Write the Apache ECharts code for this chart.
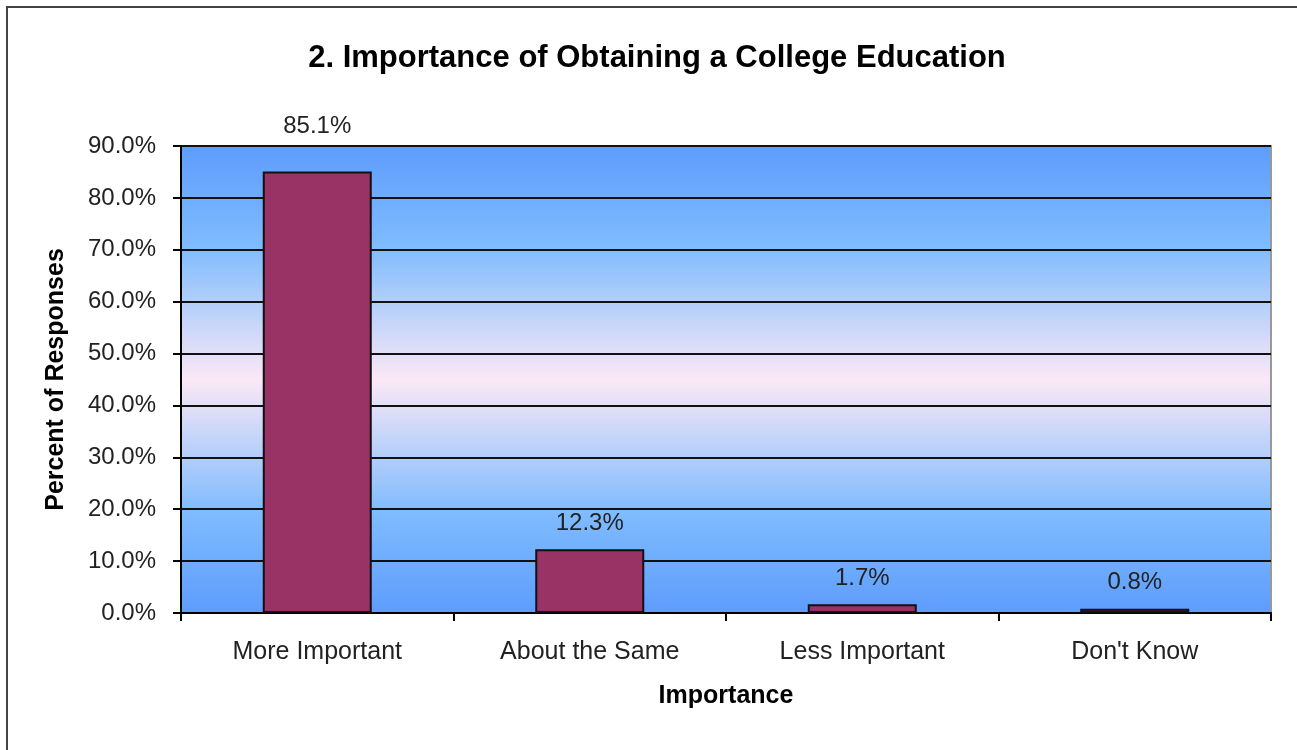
<!DOCTYPE html>
<html>
<head>
<meta charset="utf-8">
<script src="https://cdn.jsdelivr.net/npm/echarts@6/dist/echarts.min.js"></script>
<style>html,body{margin:0;padding:0;background:#fff;}#c{width:1297px;height:750px;}</style>
</head>
<body>
<div id="c"></div>
<script>
const categories = ['More Important', 'About the Same', 'Less Important', "Don't Know"];
const values = [85.1, 12.3, 1.7, 0.8];
const yTicks = [0, 10, 20, 30, 40, 50, 60, 70, 80, 90];

const chart = echarts.init(document.getElementById('c'), null, {renderer: 'canvas'});
const font = 'Arial, "Liberation Sans", sans-serif';
const data = values.map((v, i) => i === 0 ? {value: v, label: {distance: 33}} : v);

chart.setOption({
  animation: false,
  backgroundColor: '#fff',
  title: {
    text: '2. Importance of Obtaining a College Education',
    left: 652, top: 38, textAlign: 'center',
    textStyle: {fontFamily: font, fontSize: 31, fontWeight: 'bold', color: '#000'}
  },
  graphic: [{
    type: 'rect', shape: {x: 7, y: 7, width: 1400, height: 900},
    style: {fill: 'none', stroke: '#444', lineWidth: 2}, z: 100
  }],
  grid: {
    left: 181, right: 26, top: 146, bottom: 137, show: true,
    borderColor: '#999', borderWidth: 2,
    backgroundColor: new echarts.graphic.LinearGradient(0, 0, 0, 1, [
      {offset: 0, color: '#5d9cfd'},
      {offset: 0.22, color: '#80bcfe'},
      {offset: 0.5, color: '#fbe8f6'},
      {offset: 0.78, color: '#80bcfe'},
      {offset: 1, color: '#5d9cfd'}
    ])
  },
  xAxis: {
    type: 'category', data: categories,
    name: 'Importance', nameLocation: 'middle', nameGap: 71,
    nameTextStyle: {fontFamily: font, fontSize: 25, fontWeight: 'bold', color: '#000'},
    axisLine: {lineStyle: {color: '#000', width: 2}},
    axisTick: {show: true, alignWithLabel: false, length: 8, lineStyle: {color: '#000', width: 2}},
    axisLabel: {fontFamily: font, fontSize: 25, color: '#222', margin: 27}
  },
  yAxis: {
    type: 'value', min: 0, max: 90, interval: 10,
    name: 'Percent of Responses', nameLocation: 'middle', nameGap: 112, nameRotate: 90,
    nameTextStyle: {fontFamily: font, fontSize: 25, fontWeight: 'bold', color: '#000'},
    axisLine: {show: true, lineStyle: {color: '#000', width: 2}},
    axisTick: {show: true, length: 8, lineStyle: {color: '#000', width: 2}},
    axisLabel: {fontFamily: font, fontSize: 24, color: '#222', margin: 25,
      formatter: v => yTicks.includes(v) ? v.toFixed(1) + '%' : ''},
    splitLine: {show: true, lineStyle: {color: '#111', width: 2}}
  },
  series: [{
    type: 'bar', data: data, barWidth: '40%',
    itemStyle: {color: '#993366', borderColor: '#111', borderWidth: 2},
    label: {show: true, position: 'top', distance: 14, fontFamily: font, fontSize: 24, color: '#222',
      formatter: p => p.value.toFixed(1) + '%'}
  }]
});
</script>
</body>
</html>
